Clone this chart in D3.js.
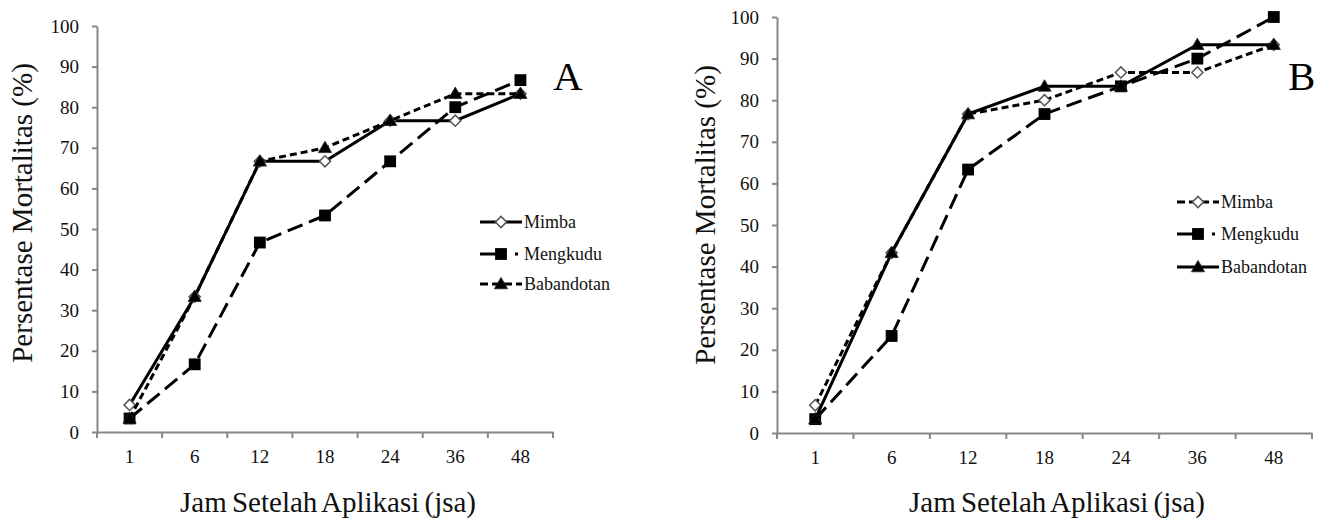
<!DOCTYPE html>
<html>
<head>
<meta charset="utf-8">
<script src="https://cdn.jsdelivr.net/npm/d3@7"></script>
</head>
<body style="margin:0; background:#fff">
<svg id="chart" width="1322" height="519" style="display:block"></svg>
<script>
'use strict';

// hours after application
var categories = ['1', '6', '12', '18', '24', '36', '48'];
var yTicks = [0, 10, 20, 30, 40, 50, 60, 70, 80, 90, 100];
var seriesNames = ['Mimba', 'Mengkudu', 'Babandotan'];

// panel A
var mimbaA = [6.67, 33.33, 66.67, 66.67, 76.67, 76.67, 83.33];
var mengkuduA = [3.33, 16.67, 46.67, 53.33, 66.67, 80, 86.67];
var babandotanA = [3.33, 33.33, 66.67, 70, 76.67, 83.33, 83.33];

// panel B
var mimbaB = [6.67, 43.33, 76.67, 80, 86.67, 86.67, 93.33];
var mengkuduB = [3.33, 23.33, 63.33, 76.67, 83.33, 90, 100];
var babandotanB = [3.33, 43.33, 76.67, 83.33, 83.33, 93.33, 93.33];

var FONT = '"Liberation Serif", "Times New Roman", Times, serif';
var svg = d3.select('#chart');

var LONG = '16,7', SHORT = '7,4';
var markers = {
  Mimba: 'diamond',
  Mengkudu: 'square',
  Babandotan: 'triangle'
};

function drawMarker(g, type, x, y) {
  if (type === 'diamond') {
    g.append('path')
      .attr('d', d3.symbol(d3.symbolSquare, 62)())
      .attr('transform', 'translate(' + x + ',' + y + ') rotate(45)')
      .attr('fill', '#fff').attr('stroke', '#555').attr('stroke-width', 1.5);
  } else if (type === 'square') {
    g.append('path')
      .attr('d', d3.symbol(d3.symbolSquare, 140)())
      .attr('transform', 'translate(' + x + ',' + y + ')')
      .attr('fill', '#000');
  } else {
    g.append('path')
      .attr('d', d3.symbol(d3.symbolTriangle, 75)())
      .attr('transform', 'translate(' + x + ',' + (y + 1) + ')')
      .attr('fill', '#000').attr('stroke', '#222').attr('stroke-width', 0.8);
  }
}

function panel(cfg) {
  var g = svg.append('g');
  var x = d3.scaleBand().domain(categories).range([cfg.left, cfg.right]);
  var y = d3.scaleLinear().domain([0, 100]).range([cfg.bottom, cfg.top]);

  // y axis
  var yAxis = g.append('g')
    .attr('transform', 'translate(' + cfg.left + ',0)')
    .call(d3.axisLeft(y).tickValues(yTicks).tickSize(5).tickPadding(13).tickSizeOuter(0));
  yAxis.selectAll('text')
    .style('font-family', FONT).style('font-size', '19px').attr('fill', '#111');

  // x axis: labels at band centres, ticks at band edges
  var xAxis = g.append('g')
    .attr('transform', 'translate(0,' + cfg.bottom + ')')
    .call(d3.axisBottom(x).tickSize(0).tickPadding(18).tickSizeOuter(0));
  xAxis.selectAll('text')
    .style('font-family', FONT).style('font-size', '19px').attr('fill', '#111');
  var edges = categories.map(function(c) { return x(c); }).concat([x.range()[1]]);
  xAxis.selectAll('.edge').data(edges).enter().append('line')
    .attr('x1', function(d) { return d; }).attr('x2', function(d) { return d; })
    .attr('y1', 0).attr('y2', 6);

  g.selectAll('.domain, .tick line, line').attr('stroke', '#878787').attr('stroke-width', 2);

  // series
  var line = d3.line()
    .x(function(d, i) { return x(categories[i]) + x.bandwidth() / 2; })
    .y(function(d) { return y(d); });

  cfg.series.forEach(function(s) {
    g.append('path')
      .datum(s.values)
      .attr('d', line)
      .attr('fill', 'none')
      .attr('stroke', '#000')
      .attr('stroke-width', 3)
      .attr('stroke-dasharray', s.dash);
    s.values.forEach(function(v, i) {
      drawMarker(g, markers[s.name], x(categories[i]) + x.bandwidth() / 2, y(v));
    });
  });

  // legend
  var lg = g.append('g');
  cfg.series.slice().sort(function(a, b) {
    return seriesNames.indexOf(a.name) - seriesNames.indexOf(b.name);
  }).forEach(function(s, i) {
    var ly = cfg.legendY[i];
    var lx = cfg.legendX;
    lg.append('line')
      .attr('x1', lx).attr('x2', lx + 42).attr('y1', ly).attr('y2', ly)
      .attr('stroke', '#000').attr('stroke-width', 3)
      .attr('stroke-dasharray', s.legendDash);
    drawMarker(lg, markers[s.name], lx + 21, ly);
    lg.append('text')
      .attr('x', lx + 44).attr('y', ly).attr('dy', '0.33em')
      .style('font-family', FONT).style('font-size', '18px').attr('fill', '#111')
      .text(s.name);
  });

  // panel letter
  g.append('text')
    .attr('x', cfg.letterX).attr('y', 90)
    .style('font-family', FONT).style('font-size', '41px').attr('fill', '#000')
    .text(cfg.letter);

  // axis titles
  g.append('text')
    .attr('transform', 'translate(' + cfg.yTitleX + ',' + cfg.yTitleY + ') rotate(-90)')
    .attr('text-anchor', 'middle').attr('dy', '0.35em')
    .style('font-family', FONT).style('font-size', '29px').attr('fill', '#111')
    .text('Persentase Mortalitas (%)');
  g.append('text')
    .attr('x', cfg.xTitleX).attr('y', cfg.xTitleY)
    .attr('text-anchor', 'middle')
    .style('font-family', FONT).style('font-size', '29px').attr('fill', '#111')
    .style('word-spacing', '-2px')
    .text('Jam Setelah Aplikasi (jsa)');
}

panel({
  left: 97, right: 553, top: 26, bottom: 432,
  letter: 'A', letterX: 553,
  legendX: 480, legendY: [222, 254, 284],
  yTitleX: 22, yTitleY: 213, xTitleX: 328, xTitleY: 512,
  series: [
    {name: 'Mimba', values: mimbaA, dash: null, legendDash: null},
    {name: 'Mengkudu', values: mengkuduA, dash: LONG, legendDash: '17,18,3,10'},
    {name: 'Babandotan', values: babandotanA, dash: SHORT, legendDash: '8,4'}
  ]
});

panel({
  left: 777, right: 1312, top: 17, bottom: 433,
  letter: 'B', letterX: 1288,
  legendX: 1177, legendY: [202, 234, 267],
  yTitleX: 705, yTitleY: 215, xTitleX: 1057, xTitleY: 512,
  series: [
    {name: 'Mimba', values: mimbaB, dash: SHORT, legendDash: '8,4'},
    {name: 'Mengkudu', values: mengkuduB, dash: LONG, legendDash: '17,18,3,10'},
    {name: 'Babandotan', values: babandotanB, dash: null, legendDash: null}
  ]
});
</script>
</body>
</html>
